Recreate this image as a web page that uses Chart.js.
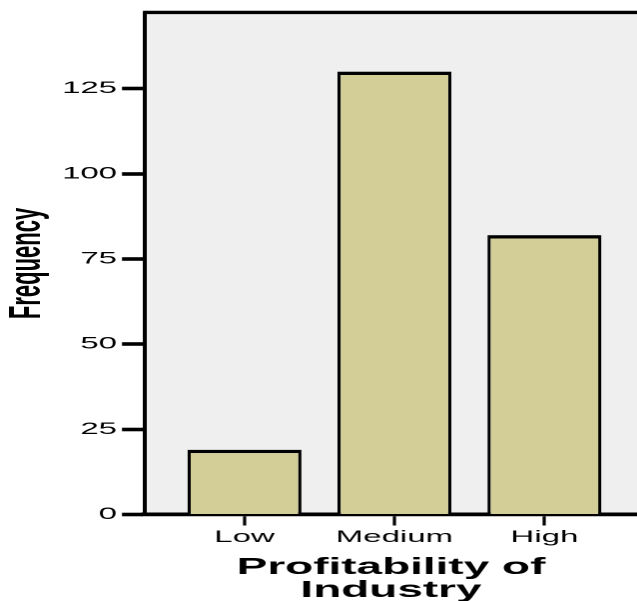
<!DOCTYPE html>
<html>
<head>
<meta charset="utf-8">
<script src="https://cdn.jsdelivr.net/npm/chart.js@4/dist/chart.umd.min.js"></script>
<style>
  html, body { margin: 0; padding: 0; background: #ffffff; overflow: hidden; }
  /* the chart is laid out at half width and widened, giving the broad lettering */
  #wrap { position: absolute; left: 0; top: 0; width: 319px; height: 601px;
          transform: scaleX(1.99687); transform-origin: 0 0; }
</style>
</head>
<body>
<div id="wrap"><canvas id="c"></canvas></div>
<script>
const categories = ['Low', 'Medium', 'High'];
const frequencies = [19, 130, 82];
const yTickValues = [0, 25, 50, 75, 100, 125];
const yMax = 147.4;
const xTitle = ['Profitability of', 'Industry'];
const yTitle = 'Frequency';

const FONT = '"Liberation Sans", Arial, Helvetica, sans-serif';
const INK = '#000000';

// grey plotting panel with a rule along its top edge
const panel = {
  id: 'panel',
  beforeDraw(chart) {
    const { ctx, chartArea: a } = chart;
    ctx.save();
    ctx.fillStyle = '#efefef';
    ctx.fillRect(a.left, a.top, a.right - a.left, a.bottom - a.top);
    ctx.restore();
  },
  afterDraw(chart) {
    const { ctx, chartArea: a } = chart;
    ctx.save();
    ctx.strokeStyle = INK;
    ctx.lineWidth = 3.4;
    ctx.beginPath();
    ctx.moveTo(a.left - 1, a.top);
    ctx.lineTo(a.right, a.top);
    ctx.stroke();
    ctx.restore();
  }
};

new Chart(document.getElementById('c'), {
  type: 'bar',
  data: {
    datasets: [{
      data: frequencies.map((v, i) => ({ x: i, y: v })),
      backgroundColor: '#d3ce98',
      borderColor: INK,
      borderWidth: { top: 3.3, left: 1.65, right: 1.65, bottom: 0 },
      borderSkipped: 'start',
      barPercentage: 0.76,
      categoryPercentage: 1
    }]
  },
  options: {
    responsive: true,
    maintainAspectRatio: false,
    devicePixelRatio: 2,
    animation: false,
    layout: { padding: { top: 11, right: 0, bottom: 0, left: 0 } },
    plugins: { legend: { display: false }, tooltip: { enabled: false } },
    scales: {
      x: {
        type: 'linear',
        min: -0.663,
        max: 2.617,
        offset: false,
        z: 1,
        afterBuildTicks(scale) { scale.ticks = categories.map((_, i) => ({ value: i })); },
        afterFit(scale) { scale.height = 86.5; },
        grid: { offset: false, drawOnChartArea: false, drawTicks: true, tickLength: 11,
                tickWidth: 1.6, tickColor: INK, color: INK },
        border: { display: true, color: INK, width: 3.8 },
        ticks: {
          color: INK,
          padding: 2,
          maxRotation: 0,
          autoSkip: false,
          font: { family: FONT, size: 16.5 },
          callback: (v) => categories[v]
        },
        title: {
          display: true,
          text: xTitle,
          color: INK,
          padding: { top: 0, bottom: -1 },
          font: { family: FONT, size: 23, weight: 'bold', lineHeight: 1 }
        }
      },
      y: {
        min: 0,
        max: yMax,
        z: 1,
        afterBuildTicks(scale) { scale.ticks = yTickValues.map(v => ({ value: v })); },
        afterFit(scale) { scale.width = 72.6; },
        grid: { drawOnChartArea: false, drawTicks: true, tickLength: 11.5,
                tickWidth: 3.6, tickColor: INK, color: INK },
        border: { display: true, color: INK, width: 2 },
        ticks: {
          color: INK,
          padding: 2.5,
          font: { family: FONT, size: 16.5 }
        },
        title: {
          display: true,
          text: yTitle,
          color: INK,
          padding: { top: 0.7, bottom: 0 },
          font: { family: FONT, size: 22, weight: 'bold', lineHeight: 1.2 }
        }
      }
    }
  },
  plugins: [panel]
});
</script>
</body>
</html>
